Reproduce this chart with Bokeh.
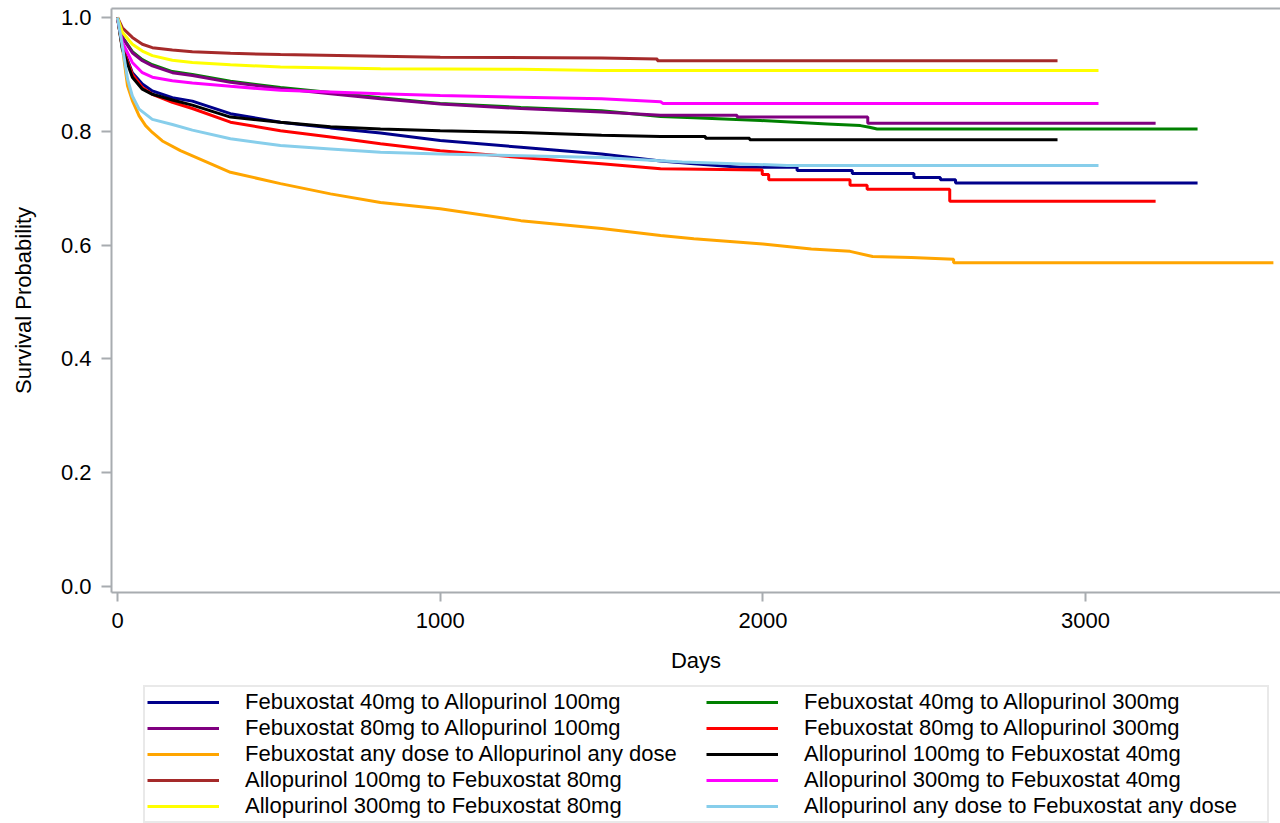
from bokeh.plotting import figure
from bokeh.layouts import column
from bokeh.models import Range1d, Legend, LegendItem, FixedTicker, NumeralTickFormatter, LinearAxis
from bokeh.embed import file_html
from bokeh.resources import INLINE

# ---- data ----
feb40_allo100_days = [0, 15, 46, 77, 108, 170, 232, 350, 505, 660, 815, 1000, 1250, 1500, 1683, 1786, 1930,
                      2106, 2106, 2277, 2277, 2468, 2468, 2550, 2550, 2597, 2597, 3347]
feb40_allo100_surv = [1.0, 0.950, 0.903, 0.883, 0.871, 0.859, 0.853, 0.831, 0.816, 0.806, 0.797, 0.784, 0.772,
                      0.760, 0.748, 0.743, 0.737, 0.737, 0.731, 0.731, 0.726, 0.726, 0.719, 0.719, 0.715, 0.715,
                      0.709, 0.709]

feb40_allo300_days = [0, 15, 46, 77, 108, 170, 232, 350, 505, 660, 815, 1000, 1250, 1500, 1683, 1786, 1993,
                      2199, 2302, 2330, 2354, 3347]
feb40_allo300_surv = [1.0, 0.966, 0.940, 0.926, 0.917, 0.905, 0.900, 0.888, 0.877, 0.868, 0.859, 0.849, 0.842,
                      0.836, 0.826, 0.824, 0.819, 0.813, 0.810, 0.807, 0.804, 0.804]

feb80_allo100_days = [0, 15, 46, 77, 108, 170, 232, 350, 505, 660, 815, 1000, 1250, 1500, 1683, 1920, 1920,
                      2325, 2325, 3217]
feb80_allo100_surv = [1.0, 0.965, 0.938, 0.924, 0.915, 0.903, 0.898, 0.886, 0.875, 0.866, 0.857, 0.848, 0.840,
                      0.834, 0.828, 0.828, 0.825, 0.825, 0.814, 0.814]

feb80_allo300_days = [0, 15, 46, 77, 108, 170, 232, 350, 505, 660, 815, 1000, 1250, 1500, 1683, 1998, 1998,
                      2018, 2018, 2270, 2270, 2323, 2323, 2579, 2579, 3217]
feb80_allo300_surv = [1.0, 0.947, 0.900, 0.877, 0.865, 0.851, 0.840, 0.816, 0.801, 0.790, 0.778, 0.766, 0.754,
                      0.743, 0.734, 0.732, 0.724, 0.724, 0.715, 0.715, 0.705, 0.705, 0.698, 0.698, 0.677, 0.677]

febany_allany_days = [0, 15, 31, 46, 67, 87, 108, 139, 195, 350, 505, 660, 815, 1000, 1250, 1500, 1683, 1786,
                      2000, 2150, 2270, 2340, 2460, 2591, 2591, 3582]
febany_allany_surv = [1.0, 0.948, 0.880, 0.854, 0.827, 0.810, 0.798, 0.783, 0.766, 0.728, 0.708, 0.690, 0.675,
                      0.664, 0.643, 0.629, 0.617, 0.611, 0.602, 0.593, 0.589, 0.580, 0.578, 0.575, 0.569, 0.569]

allo100_feb40_days = [0, 15, 46, 77, 108, 170, 232, 350, 505, 660, 815, 1000, 1250, 1500, 1683, 1822, 1822,
                      1959, 1959, 2913]
allo100_feb40_surv = [1.0, 0.944, 0.895, 0.874, 0.865, 0.855, 0.846, 0.825, 0.816, 0.808, 0.804, 0.801, 0.798,
                      0.793, 0.791, 0.791, 0.788, 0.788, 0.785, 0.785]

allo100_feb80_days = [0, 15, 46, 77, 108, 170, 232, 350, 505, 815, 1000, 1500, 1673, 1673, 2913]
allo100_feb80_surv = [1.0, 0.982, 0.965, 0.953, 0.947, 0.943, 0.940, 0.937, 0.935, 0.932, 0.930, 0.929, 0.927,
                      0.924, 0.924]

allo300_feb40_days = [0, 15, 46, 77, 108, 170, 232, 350, 505, 660, 815, 1000, 1250, 1500, 1683, 1690, 3040]
allo300_feb40_surv = [1.0, 0.956, 0.921, 0.903, 0.895, 0.889, 0.885, 0.879, 0.872, 0.869, 0.866, 0.863, 0.860,
                      0.857, 0.852, 0.849, 0.849]

allo300_feb80_days = [0, 15, 46, 77, 108, 170, 232, 350, 505, 815, 1250, 1500, 3040]
allo300_feb80_surv = [1.0, 0.974, 0.953, 0.941, 0.933, 0.925, 0.921, 0.917, 0.913, 0.910, 0.909, 0.907, 0.907]

alloany_febany_days = [0, 15, 31, 46, 67, 108, 170, 232, 350, 505, 660, 815, 1000, 1250, 1500, 1750, 2075, 3040]
alloany_febany_surv = [1.0, 0.950, 0.892, 0.862, 0.839, 0.821, 0.812, 0.802, 0.787, 0.775, 0.769, 0.763, 0.760,
                       0.757, 0.754, 0.746, 0.740, 0.740]

series_labels = [
    "Febuxostat 40mg to Allopurinol 100mg",
    "Febuxostat 40mg to Allopurinol 300mg",
    "Febuxostat 80mg to Allopurinol 100mg",
    "Febuxostat 80mg to Allopurinol 300mg",
    "Febuxostat any dose to Allopurinol any dose",
    "Allopurinol 100mg to Febuxostat 40mg",
    "Allopurinol 100mg to Febuxostat 80mg",
    "Allopurinol 300mg to Febuxostat 40mg",
    "Allopurinol 300mg to Febuxostat 80mg",
    "Allopurinol any dose to Febuxostat any dose",
]
series_days = [feb40_allo100_days, feb40_allo300_days, feb80_allo100_days, feb80_allo300_days,
               febany_allany_days, allo100_feb40_days, allo100_feb80_days, allo300_feb40_days,
               allo300_feb80_days, alloany_febany_days]
series_surv = [feb40_allo100_surv, feb40_allo300_surv, feb80_allo100_surv, feb80_allo300_surv,
               febany_allany_surv, allo100_feb40_surv, allo100_feb80_surv, allo300_feb40_surv,
               allo300_feb80_surv, alloany_febany_surv]
series_colors = ["#00008B", "#008000", "#800080", "#FF0000", "#FFA500",
                 "#000000", "#A52A2A", "#FF00FF", "#FFFF00", "#87CEEB"]

x_ticks = [0, 1000, 2000, 3000]
y_ticks = [0.0, 0.2, 0.4, 0.6, 0.8, 1.0]

FONT = "Liberation Sans"
AXIS_GRAY = "#A8ACB0"
LINE_W = 3

# ---------------- main plot ----------------
p = figure(width=1280, height=685, output_backend="svg", toolbar_location=None,
           x_range=Range1d(-18.6, 3604), y_range=Range1d(-0.0105, 1.0158),
           min_border_left=111, min_border_right=0, min_border_top=8, min_border_bottom=93)
p.xgrid.visible = False
p.ygrid.visible = False
p.outline_line_color = None
p.background_fill_color = "white"
p.border_fill_color = "white"

for d, s, c in zip(series_days, series_surv, series_colors):
    p.line(d, s, line_color=c, line_width=LINE_W)

xax = p.below[0]
yax = p.left[0]

for ax in (xax, yax):
    ax.axis_line_color = AXIS_GRAY
    ax.axis_line_width = 2
    ax.major_tick_line_color = AXIS_GRAY
    ax.major_tick_line_width = 2
    ax.major_tick_in = 0
    ax.minor_tick_line_color = None
    ax.major_label_text_font = FONT
    ax.major_label_text_font_size = "22px"
    ax.major_label_text_color = "black"
    ax.axis_label_text_font = FONT
    ax.axis_label_text_font_size = "22px"
    ax.axis_label_text_font_style = "normal"
    ax.axis_label_text_color = "black"

xax.ticker = FixedTicker(ticks=x_ticks)
xax.major_tick_out = 9
xax.major_label_standoff = 11
xax.axis_label = "Days"
xax.axis_label_standoff = 17

yax.ticker = FixedTicker(ticks=y_ticks)
yax.formatter = NumeralTickFormatter(format="0.0")
yax.major_tick_out = 10
yax.major_label_standoff = 10
yax.axis_label = "Survival Probability"
yax.axis_label_standoff = 22

# top frame line (no ticks, no labels)
top_axis = LinearAxis(ticker=FixedTicker(ticks=[]), axis_line_color=AXIS_GRAY, axis_line_width=2,
                      major_tick_line_color=None, minor_tick_line_color=None)
p.add_layout(top_axis, "above")

# ---------------- legend panel ----------------
# The same series are drawn here only to give the legend its keys; the y range
# keeps the curves themselves out of view.
lg = figure(width=1280, height=138, output_backend="svg", toolbar_location=None,
            x_axis_location=None, y_axis_location=None,
            x_range=Range1d(0, 1), y_range=Range1d(10, 11),
            min_border_left=0, min_border_right=0, min_border_top=0, min_border_bottom=0)
lg.xgrid.visible = False
lg.ygrid.visible = False
lg.outline_line_color = None
lg.border_fill_color = "white"

key_renderers = [lg.line(d, s, line_color=c, line_width=LINE_W)
                 for d, s, c in zip(series_days, series_surv, series_colors)]

# column-major order (left column = items 1,3,5,7,9)
order = [0, 2, 4, 6, 8, 1, 3, 5, 7, 9]
items = [LegendItem(label=series_labels[i], renderers=[key_renderers[i]]) for i in order]
legend = Legend(items=items, orientation="vertical", ncols=2, location=(32, 0),
                label_text_font=FONT, label_text_font_size="22px", label_text_color="black",
                glyph_width=72, glyph_height=20, label_standoff=26, label_width=461,
                spacing=0, padding=2, margin=0,
                border_line_color="#D4D4D4", border_line_width=2,
                background_fill_color="white", background_fill_alpha=1.0)
lg.add_layout(legend, "center")

layout = column(p, lg, spacing=0)
open("out.html", "w").write(file_html(layout, INLINE))
